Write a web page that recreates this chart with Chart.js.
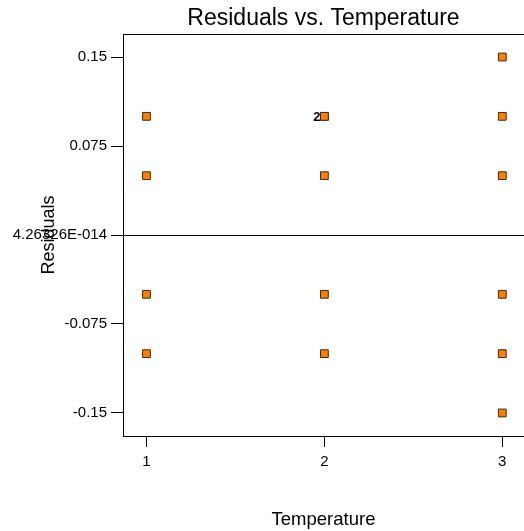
<!DOCTYPE html>
<html>
<head>
<meta charset="utf-8">
<script src="https://cdn.jsdelivr.net/npm/chart.js@4/dist/chart.umd.min.js"></script>
<style>
  body { margin: 0; background: #fff; }
  #wrap { width: 524px; height: 531px; }
</style>
</head>
<body>
<div id="wrap"><canvas id="chart" width="524" height="531"></canvas></div>
<script>
// data
const temperature = [1, 1, 1, 1, 2, 2, 2, 2, 2, 3, 3, 3, 3, 3, 3];
const residuals = [0.1, 0.05, -0.05, -0.1, 0.1, 0.1, 0.05, -0.05, -0.1, 0.15, 0.1, 0.05, -0.05, -0.1, -0.15];
const xTicks = [1, 2, 3];
const yTicks = [-0.15, -0.075, 0, 0.075, 0.15];
const yTickLabels = ['-0.15', '-0.075', '4.26326E-014', '0.075', '0.15'];
// count labels for overlapping points
const countX = [2];
const countY = [0.1];
const countText = ['2'];

const font = 'Liberation Sans, Arial, sans-serif';

const points = temperature.map((t, i) => ({ x: t, y: residuals[i] }));

const countLabels = {
    id: 'countLabels',
    afterDatasetsDraw(chart) {
        const ctx = chart.ctx;
        const xs = chart.scales.x, ys = chart.scales.y;
        ctx.save();
        ctx.fillStyle = '#000';
        ctx.font = 'bold 13px ' + font;
        ctx.textAlign = 'right';
        ctx.textBaseline = 'middle';
        countText.forEach((t, i) => {
            ctx.fillText(t, xs.getPixelForValue(countX[i]) - 4, ys.getPixelForValue(countY[i]) + 1);
        });
        ctx.restore();
    }
};

const config = {
    type: 'scatter',
    data: {
        datasets: [{
            data: points,
            pointStyle: 'rect',
            pointRadius: 5.5,
            pointHoverRadius: 5.5,
            backgroundColor: '#ff8000',
            borderColor: '#3a2a1a',
            borderWidth: 1
        }]
    },
    options: {
        responsive: false,
        animation: false,
        events: [],
        layout: { padding: 0, autoPadding: false },
        plugins: {
            legend: { display: false },
            tooltip: { enabled: false },
            title: {
                display: true,
                text: 'Residuals vs. Temperature',
                fullSize: false,
                color: '#000',
                font: { family: font, size: 23, weight: 'normal' },
                padding: { top: 5, bottom: 1.4 }
            }
        },
        scales: {
            x: {
                type: 'linear',
                position: 'bottom',
                min: 0.868,
                max: 3.122,
                afterBuildTicks: s => { s.ticks = xTicks.map(v => ({ value: v })); },
                afterFit: s => { s.height = 95; s.paddingLeft = 0; s.paddingRight = 0; },
                grid: { drawOnChartArea: false, drawTicks: true, tickLength: 11, tickColor: '#000' },
                border: { display: true, color: '#000', width: 1 },
                ticks: { color: '#000', padding: 6, font: { family: font, size: 15 } },
                title: {
                    display: true,
                    text: 'Temperature',
                    color: '#000',
                    font: { family: font, size: 18.5 },
                    padding: { top: 0, bottom: 0 }
                }
            },
            top: {
                type: 'linear',
                position: 'top',
                display: true,
                min: 0,
                max: 1,
                afterFit: s => { s.height = 0; s.paddingLeft = 0; s.paddingRight = 0; },
                grid: { display: false },
                ticks: { display: false },
                border: { display: true, color: '#000', width: 1 }
            },
            y: {
                type: 'linear',
                position: 'left',
                min: -0.1694,
                max: 0.1694,
                afterBuildTicks: s => { s.ticks = yTicks.map(v => ({ value: v })); },
                afterFit: s => { s.width = 123; },
                grid: {
                    drawOnChartArea: true,
                    drawTicks: true,
                    tickLength: 12,
                    tickColor: '#000',
                    color: c => (c.tick && c.tick.value === 0 ? '#000' : 'rgba(0,0,0,0)')
                },
                border: { display: true, color: '#000', width: 1 },
                ticks: {
                    color: '#000',
                    padding: 4,
                    font: { family: font, size: 15 },
                    callback: (v, i) => yTickLabels[i]
                },
                title: {
                    display: true,
                    text: 'Residuals',
                    color: '#000',
                    font: { family: font, size: 18 },
                    padding: { top: 38, bottom: 0 }
                }
            }
        }
    },
    plugins: [countLabels]
};

var chartElem = new Chart(document.getElementById('chart'), config);
</script>
</body>
</html>
